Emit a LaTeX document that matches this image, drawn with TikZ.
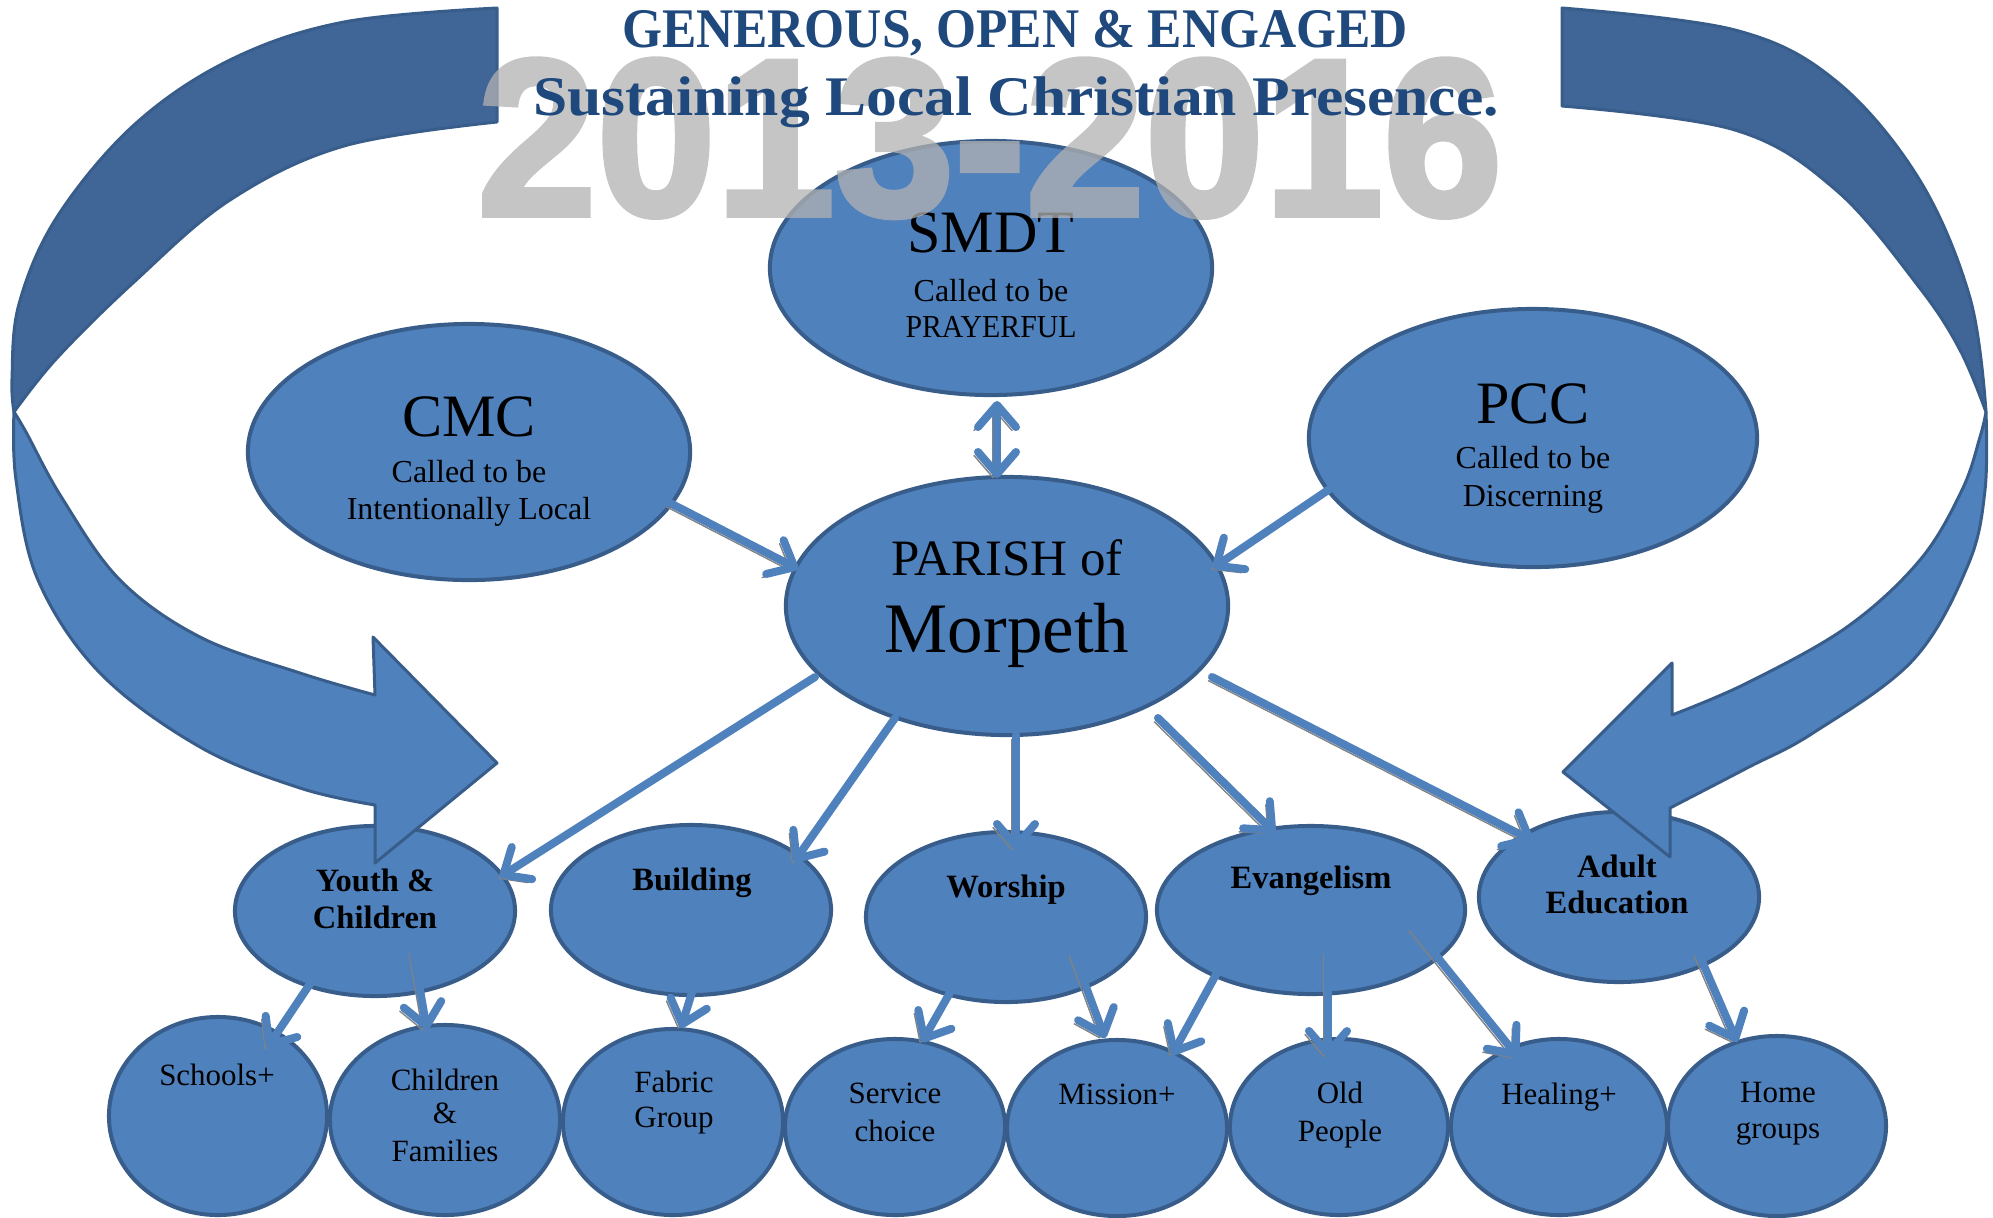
\documentclass[tikz,border=0pt]{standalone}
\usepackage{fontspec}
\setmainfont{Liberation Serif}
\newfontfamily\wmfont{Liberation Sans}[BoldFeatures={FakeBold=2.5}]
\usetikzlibrary{shapes.geometric,arrows.meta,calc}
\definecolor{ellfill}{RGB}{79,129,189}
\definecolor{elldraw}{RGB}{56,93,138}
\definecolor{banddark}{RGB}{63,102,150}
\definecolor{titleblue}{RGB}{31,73,125}
\definecolor{shadowgray}{RGB}{130,130,130}
\definecolor{wmgray}{RGB}{178,178,178}
\newcommand\myfs[1]{\fontsize{#1pt}{#1pt}\selectfont}
\begin{document}
\begin{tikzpicture}[x=0.01cm,y=-0.01cm,
  ell/.style={ellipse, draw=elldraw, fill=ellfill, line width=0.04cm, inner sep=0pt},
  lbl/.style={anchor=base, inner sep=0pt},
  bandlight/.style={fill=ellfill, draw=elldraw, line width=0.03cm, line join=round},
  banddk/.style={fill=banddark, draw=elldraw, line width=0.03cm, line join=round},
  conn/.style={draw=ellfill, line width=0.08cm, line cap=round,
    -{Straight Barb[length=0.22cm,width=0.38cm,round]},
    preaction={draw=shadowgray, transform canvas={xshift=-0.04cm,yshift=-0.035cm}}},
  dconn/.style={draw=ellfill, line width=0.08cm, line cap=round,
    {Straight Barb[length=0.22cm,width=0.38cm,round]}-{Straight Barb[length=0.22cm,width=0.38cm,round]},
    preaction={draw=shadowgray, transform canvas={xshift=-0.04cm,yshift=-0.035cm}}},
  big/.style={font=\myfs{17.1}},
  small/.style={font=\myfs{9.1}},
  mid/.style={font=\bfseries\myfs{9.25}},
  low/.style={font=\myfs{8.8}}
]
\useasboundingbox (0,0) rectangle (1993,1217);

% ---------- ellipses ----------
\node[ell, minimum width=4.42cm, minimum height=2.54cm] (smdt) at (991,268) {};
\node[ell, minimum width=4.42cm, minimum height=2.56cm] (cmc) at (469,452) {};
\node[ell, minimum width=4.48cm, minimum height=2.58cm] (pcc) at (1533,438) {};
\node[ell, minimum width=4.42cm, minimum height=2.58cm] (parish) at (1007,606) {};
\node[ell, minimum width=2.80cm, minimum height=1.70cm] (youth) at (375,911) {};
\node[ell, minimum width=2.80cm, minimum height=1.70cm] (building) at (691,910) {};
\node[ell, minimum width=2.80cm, minimum height=1.70cm] (worship) at (1006,917) {};
\node[ell, minimum width=3.08cm, minimum height=1.68cm] (evang) at (1311,910) {};
\node[ell, minimum width=2.80cm, minimum height=1.70cm] (adult) at (1619,897) {};
\node[ell, minimum width=2.18cm, minimum height=1.98cm] (schools) at (218,1116) {};
\node[ell, minimum width=2.30cm, minimum height=1.90cm] (cf) at (445,1120) {};
\node[ell, minimum width=2.20cm, minimum height=1.86cm] (fabric) at (673,1122) {};
\node[ell, minimum width=2.20cm, minimum height=1.76cm] (service) at (895,1127) {};
\node[ell, minimum width=2.20cm, minimum height=1.76cm] (mission) at (1117,1128) {};
\node[ell, minimum width=2.18cm, minimum height=1.76cm] (oldp) at (1339,1127) {};
\node[ell, minimum width=2.16cm, minimum height=1.76cm] (healing) at (1559,1127) {};
\node[ell, minimum width=2.18cm, minimum height=1.80cm] (home) at (1777,1126) {};

% ---------- big curved arrows ----------
\filldraw[bandlight] plot[smooth, tension=0.6] coordinates {(14,412) (16,480) (38,580) (100,673) (200,747) (300,788) (375,805)}
  -- (375,863) -- (497,763) -- (373,637) -- (375,695)
  -- plot[smooth, tension=0.6] coordinates {(375,695) (300,673) (200,637) (120,580) (62,498) (26,432) (14,412)} -- cycle;
\filldraw[banddk] plot[smooth, tension=0.6] coordinates {(497,8) (344,22) (230,60) (134,125) (57,217) (19,304) (12,379) (14,412)}
  -- plot[smooth, tension=0.6] coordinates {(14,412) (57,358) (134,282) (230,200) (344,146) (497,122)} -- cycle;

\filldraw[bandlight] plot[smooth, tension=0.6] coordinates {(1986,412) (1985,490) (1968,565) (1913,660) (1813,733) (1747,768) (1670,808)}
  -- (1670,857) -- (1563,772) -- (1672,663) -- (1672,715)
  -- plot[smooth, tension=0.6] coordinates {(1672,715) (1747,683) (1847,627) (1920,560) (1962,490) (1980,437) (1986,412)} -- cycle;
\filldraw[banddk] plot[smooth, tension=0.6] coordinates {(1562,8) (1735,30) (1836,81) (1919,179) (1970,298) (1986,412)}
  -- plot[smooth, tension=0.6] coordinates {(1986,412) (1960,350) (1919,287) (1836,190) (1735,130) (1562,106)} -- cycle;

% ---------- connectors ----------
\draw[conn] ($(cmc)+(201,51)$) -- ($(parish)+(-209,-37)$);
\draw[conn] ($(pcc)+(-196,46)$) -- ($(parish)+(206,-38)$);
\draw[dconn] ($(smdt)+(6,133)$) -- ($(parish)+(-10,-128)$);
\draw[conn] ($(parish)+(-192,71)$) -- ($(youth)+(125,-34)$);
\draw[conn] ($(parish)+(-112,112)$) -- ($(building)+(103,-48)$);
\draw[conn] ($(parish)+(9,129)$) -- ($(worship)+(10,-67)$);
\draw[conn] ($(parish)+(151,112)$) -- ($(evang)+(-36,-77)$);
\draw[conn] ($(parish)+(205,71)$) -- ($(adult)+(-86,-56)$);
\draw[conn] ($(youth)+(-47,46)$) -- ($(schools)+(49,-68)$);
\draw[conn] ($(youth)+(38,39)$) -- ($(cf)+(-18,-90)$);
\draw[conn] ($(building)+(14,40)$) -- ($(fabric)+(8,-94)$);
\draw[conn] ($(worship)+(-33,35)$) -- ($(service)+(27,-85)$);
\draw[conn] ($(worship)+(67,35)$) -- ($(mission)+(-12,-90)$);
\draw[conn] ($(evang)+(-69,17)$) -- ($(mission)+(55,-73)$);
\draw[conn] ($(evang)+(17,40)$) -- ($(oldp)+(-11,-70)$);
\draw[conn] ($(evang)+(102,17)$) -- ($(healing)+(-41,-70)$);
\draw[conn] ($(adult)+(79,55)$) -- ($(home)+(-40,-84)$);

% ---------- labels ----------
\node[lbl, big] (tsmdt) at (991,252) {SMDT};
\node[lbl, small] (tsmdt2) at (991,301) {Called to be};
\node[lbl, small] (tsmdt3) at (991,337) {\scalebox{0.93}[1]{PRAYERFUL}};
\node[lbl, big] (tcmc) at (469,436) {CMC};
\node[lbl, small] (tcmc2) at (469,482) {Called to be};
\node[lbl, small] (tcmc3) at (469,519) {Intentionally Local};
\node[lbl, big] (tpcc) at (1533,423) {PCC};
\node[lbl, small] (tpcc2) at (1533,468) {Called to be};
\node[lbl, small] (tpcc3) at (1533,506) {Discerning};
\node[lbl, font=\myfs{14.5}] (tpar1) at (1007,575) {PARISH of};
\node[lbl, font=\myfs{20.2}] (tpar2) at (1007,652) {Morpeth};

\node[lbl, mid] (tyouth1) at (375,891) {Youth \&};
\node[lbl, mid] (tyouth2) at (375,928) {Children};
\node[lbl, mid] (tbuild) at (692,890) {Building};
\node[lbl, mid] (tworship) at (1006,897) {Worship};
\node[lbl, mid] (tevang) at (1311,888) {Evangelism};
\node[lbl, mid] (tadult1) at (1617,877) {Adult};
\node[lbl, mid] (tadult2) at (1617,913) {Education};

\node[lbl, low] (tschools) at (217,1085) {Schools+};
\node[lbl, low] (tcf1) at (445,1090) {Children};
\node[lbl, low] (tcf2) at (445,1123) {\&};
\node[lbl, low] (tcf3) at (445,1161) {Families};
\node[lbl, low] (tfab1) at (674,1092) {Fabric};
\node[lbl, low] (tfab2) at (674,1127) {Group};
\node[lbl, low] (tserv1) at (895,1103) {Service};
\node[lbl, low] (tserv2) at (895,1141) {choice};
\node[lbl, low] (tmiss) at (1117,1104) {Mission+};
\node[lbl, low] (told1) at (1340,1103) {Old};
\node[lbl, low] (told2) at (1340,1141) {People};
\node[lbl, low] (theal) at (1559,1104) {Healing+};
\node[lbl, low] (thome1) at (1778,1102) {Home};
\node[lbl, low] (thome2) at (1778,1138) {groups};

% ---------- watermark ----------
\begin{scope}[transparency group, opacity=0.75]
\node[lbl, text=wmgray] (wm) at (990,215) {\wmfont\bfseries\myfs{63.5}\scalebox{0.96}[1]{2013-2016}};
\end{scope}

% ---------- title ----------
\node[lbl, text=titleblue, font=\bfseries\myfs{15.9}] (title1) at (1015,47) {\scalebox{0.92}[1]{GENEROUS, OPEN \& ENGAGED}};
\node[lbl, text=titleblue, font=\bfseries\myfs{15.9}] (title2) at (1016,115) {\scalebox{1.10}[1]{Sustaining Local Christian Presence.}};
\end{tikzpicture}
\end{document}
